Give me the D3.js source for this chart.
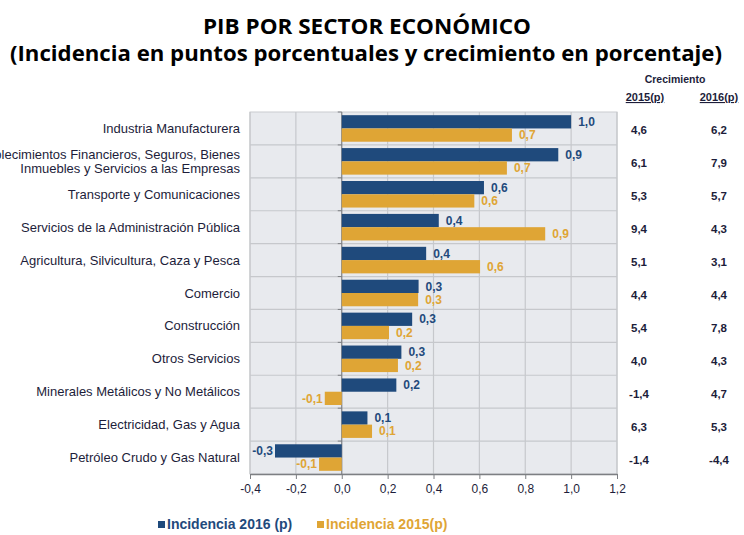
<!DOCTYPE html>
<html lang="es">
<head>
<meta charset="UTF-8">
<title>PIB por sector económico</title>
<script src="https://d3js.org/d3.v7.min.js"></script>
<style>
  body { margin: 0; background: #fff; }
  svg { display: block; }
</style>
</head>
<body>
<svg id="chart" width="744" height="535"></svg>
<script>
    // data
    const sectors = [
        "Industria Manufacturera",
        "Establecimientos Financieros, Seguros, Bienes|Inmuebles y Servicios a las Empresas",
        "Transporte y Comunicaciones",
        "Servicios de la Administración Pública",
        "Agricultura, Silvicultura, Caza y Pesca",
        "Comercio",
        "Construcción",
        "Otros Servicios",
        "Minerales Metálicos y No Metálicos",
        "Electricidad, Gas y Agua",
        "Petróleo Crudo y Gas Natural"
    ];
    const inc2016 = [1.0, 0.944, 0.62, 0.423, 0.368, 0.335, 0.307, 0.26, 0.238, 0.112, -0.291];
    const inc2015 = [0.742, 0.72, 0.578, 0.887, 0.603, 0.333, 0.206, 0.245, -0.074, 0.132, -0.099];
    const crec2015 = ["4,6", "6,1", "5,3", "9,4", "5,1", "4,4", "5,4", "4,0", "-1,4", "6,3", "-1,4"];
    const crec2016 = ["6,2", "7,9", "5,7", "4,3", "3,1", "4,4", "7,8", "4,3", "4,7", "5,3", "-4,4"];
    const xTicks = [-0.4, -0.2, 0, 0.2, 0.4, 0.6, 0.8, 1.0, 1.2];
    const seriesNames = ["Incidencia 2016 (p)", "Incidencia 2015(p)"];

    const blue = "#1f4a7c";
    const gold = "#dfa535";
    const textDark = "#1d1d3a";
    const font = "'Liberation Sans', Arial, sans-serif";

    const svg = d3.select("#chart");

    // titles
    svg.append("text")
        .attr("x", 367).attr("y", 34)
        .attr("text-anchor", "middle")
        .attr("textLength", 328).attr("lengthAdjust", "spacingAndGlyphs")
        .style("font-family", "'Open Sans', sans-serif")
        .style("font-weight", "bold").style("font-size", "21px")
        .text("PIB POR SECTOR ECONÓMICO");
    svg.append("text")
        .attr("x", 366).attr("y", 61)
        .attr("text-anchor", "middle")
        .attr("textLength", 712).attr("lengthAdjust", "spacingAndGlyphs")
        .style("font-family", "'Open Sans', sans-serif")
        .style("font-weight", "bold").style("font-size", "21px")
        .text("(Incidencia en puntos porcentuales y crecimiento en porcentaje)");

    const plotTop = 112, plotBottom = 474, plotLeft = 250, plotRight = 617;

    const x = d3.scaleLinear().domain([-0.4, 1.2]).range([plotLeft, plotRight]);
    const y = d3.scaleBand().domain(d3.range(sectors.length)).range([plotTop, plotBottom]);
    const sub = d3.scaleBand().domain([0, 1]).range([0, y.bandwidth()])
        .paddingInner(0).paddingOuter(0.24);

    // plot background
    svg.append("rect")
        .attr("x", plotLeft).attr("y", plotTop)
        .attr("width", plotRight - plotLeft).attr("height", plotBottom - plotTop)
        .attr("fill", "#e8eaee").attr("stroke", "#c9cbcf");

    // vertical grid
    svg.append("g").selectAll("line").data(xTicks.filter(d => d !== 0))
        .join("line")
        .attr("x1", d => x(d)).attr("x2", d => x(d))
        .attr("y1", plotTop).attr("y2", plotBottom)
        .attr("stroke", "#c6c8cc").attr("stroke-width", 1.2);

    // horizontal row lines
    svg.append("g").selectAll("line").data(d3.range(1, sectors.length))
        .join("line")
        .attr("x1", plotLeft).attr("x2", plotRight)
        .attr("y1", d => y(d)).attr("y2", d => y(d))
        .attr("stroke", "#c6c8cc").attr("stroke-width", 1.2);

    // zero line with small ticks
    svg.append("line")
        .attr("x1", x(0)).attr("x2", x(0)).attr("y1", plotTop).attr("y2", plotBottom)
        .attr("stroke", "#7d7f83").attr("stroke-width", 1.2);
    svg.append("g").selectAll("line").data(d3.range(0, sectors.length))
        .join("line")
        .attr("x1", x(0) - 4).attr("x2", x(0))
        .attr("y1", d => y(d)).attr("y2", d => y(d))
        .attr("stroke", "#7d7f83");

    // bars
    const series = [inc2016, inc2015];
    const colors = [blue, gold];
    series.forEach(function (vals, s) {
        svg.append("g").selectAll("rect").data(vals)
            .join("rect")
            .attr("x", d => x(Math.min(0, d)))
            .attr("width", d => Math.abs(x(d) - x(0)))
            .attr("y", (d, i) => y(i) + sub(s))
            .attr("height", sub.bandwidth())
            .attr("fill", colors[s]);

        svg.append("g").selectAll("text").data(vals)
            .join("text")
            .attr("x", d => d >= 0 ? x(d) + 7 : x(d) - 2)
            .attr("y", (d, i) => y(i) + sub(s) + sub.bandwidth() / 2)
            .attr("dy", "0.35em")
            .attr("text-anchor", d => d >= 0 ? "start" : "end")
            .style("font-family", font).style("font-weight", "bold")
            .style("font-size", "12px")
            .attr("fill", colors[s])
            .text(d => d.toFixed(1).replace(".", ","));
    });

    // x axis
    const xAxis = svg.append("g")
        .attr("transform", "translate(0," + plotBottom + ")")
        .call(d3.axisBottom(x).tickValues(xTicks).tickSize(5).tickSizeOuter(0)
            .tickFormat(d => d3.format(".1f")(d).replace(".", ",").replace("−", "-")));
    xAxis.select(".domain").attr("stroke", "#7d7f83").attr("stroke-width", 1.5);
    xAxis.selectAll(".tick line").attr("stroke", "#7d7f83");
    xAxis.selectAll(".tick text")
        .attr("y", 10)
        .style("font-family", font).style("font-size", "12px")
        .attr("fill", textDark);

    // category labels (the long one runs off the left edge, as in the source)
    const cat = svg.append("g").selectAll("text").data(sectors)
        .join("text")
        .attr("x", 240)
        .attr("y", (d, i) => y(i) + y.bandwidth() / 2)
        .attr("text-anchor", "end")
        .style("font-family", font).style("font-size", "13px")
        .attr("fill", textDark);
    cat.each(function (d) {
        const parts = d.split("|");
        const t = d3.select(this);
        parts.forEach(function (p, k) {
            t.append("tspan")
                .attr("x", 240)
                .attr("dy", k === 0 ? (parts.length === 1 ? "0.35em" : "-0.22em") : "1.1em")
                .text(p);
        });
    });

    // growth columns
    const colStyle = sel => sel.style("font-family", font).style("font-weight", "bold")
        .style("font-size", "11.5px").attr("fill", textDark).attr("text-anchor", "middle");
    svg.append("text").attr("x", 675).attr("y", 83).text("Crecimiento").call(colStyle)
        .style("font-size", "10.5px");
    svg.append("text").attr("x", 645).attr("y", 101).text("2015(p)").call(colStyle)
        .style("font-size", "11px").style("text-decoration", "underline");
    svg.append("text").attr("x", 719).attr("y", 101).text("2016(p)").call(colStyle)
        .style("font-size", "11px").style("text-decoration", "underline");
    [crec2015, crec2016].forEach(function (col, c) {
        svg.append("g").selectAll("text").data(col)
            .join("text")
            .attr("x", c === 0 ? 639 : 719)
            .attr("y", (d, i) => y(i) + y.bandwidth() / 2 + 2)
            .attr("dy", "0.35em")
            .text(d => d)
            .call(colStyle);
    });

    // legend
    const legX = [158, 317];
    seriesNames.forEach(function (name, s) {
        svg.append("rect")
            .attr("x", legX[s]).attr("y", 521)
            .attr("width", 7).attr("height", 7)
            .attr("fill", colors[s]);
        svg.append("text")
            .attr("x", legX[s] + 9).attr("y", 529)
            .style("font-family", font).style("font-weight", "bold")
            .style("font-size", "14px")
            .attr("fill", colors[s])
            .text(name);
    });
</script>
</body>
</html>
